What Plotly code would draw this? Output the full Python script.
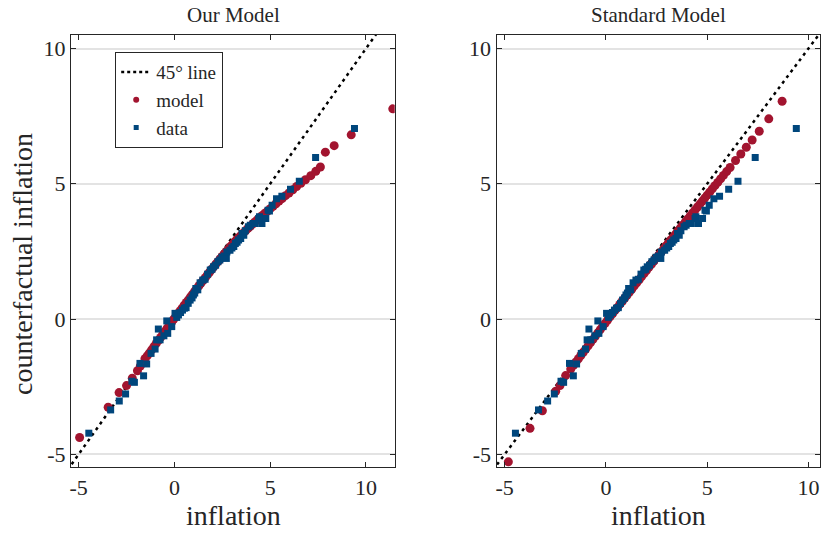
import plotly.graph_objects as go

# ---------------- data ----------------
line45 = [-6, 12]

# observed data (same in both panels)
data_x = [-4.47, -3.33, -2.88, -2.55, -2.22, -2.09, -1.61, -1.80, -1.45, -1.22, -1.01,
          -0.93, -0.75, -0.84, -0.55, -0.35, -0.40, -0.14, 0.03, 0.12, 0.21, 0.32, 0.42,
          0.52, 0.61, 0.72, 0.82, 0.92, 0.99, 1.06, 1.12, 1.22, 1.34, 1.48, 1.60, 1.73,
          1.87, 1.96, 2.04, 2.15, 2.27, 2.37, 2.48, 2.60, 2.71, 2.74, 2.90, 3.00, 3.10,
          3.18, 3.27, 3.35, 3.46, 3.53, 3.62, 3.70, 3.86, 3.96, 4.11, 4.22, 4.40, 4.44,
          4.57, 4.77, 4.89, 4.96, 5.10, 5.33, 5.61, 6.06, 6.52, 7.37, 9.40]
data_y = [-4.22, -3.36, -3.03, -2.77, -2.30, -2.34, -2.10, -1.64, -1.66, -1.27, -1.11,
          -0.77, -0.77, -0.37, -0.62, -0.53, -0.07, -0.28, 0.21, 0.06, 0.15, 0.24, 0.33,
          0.40, 0.42, 0.58, 0.70, 0.78, 0.89, 0.96, 1.13, 1.08, 1.34, 1.44, 1.47, 1.66,
          1.81, 1.84, 1.93, 1.99, 2.12, 2.18, 2.28, 2.33, 2.24, 2.48, 2.54, 2.63, 2.68,
          2.79, 2.84, 2.92, 2.98, 3.16, 3.10, 3.26, 3.41, 3.47, 3.53, 3.53, 3.72, 3.78,
          3.53, 3.72, 4.02, 3.99, 4.21, 4.45, 4.54, 4.80, 5.09, 5.97, 7.04]

# "Our Model"
ours_x = [-4.95, -3.46, -2.89, -2.50, -2.20, -1.93, -1.78, -1.54, -1.42, -1.31, -1.19,
          -1.07, -0.95, -0.83, -0.72, -0.61, -0.49, -0.38, -0.27, -0.15, -0.04, 0.07,
          0.18, 0.29, 0.40, 0.51, 0.62, 0.73, 0.84, 0.95, 1.06, 1.17, 1.28, 1.39, 1.50,
          1.61, 1.72, 1.83, 1.94, 2.05, 2.16, 2.27, 2.38, 2.49, 2.60, 2.71, 2.82, 2.93,
          3.04, 3.15, 3.26, 3.37, 3.48, 3.60, 3.72, 3.84, 3.96, 4.08, 4.20, 4.33, 4.46,
          4.59, 4.72, 4.86, 5.00, 5.15, 5.30, 5.46, 5.62, 5.80, 5.98, 6.18, 6.38, 6.60,
          6.84, 7.12, 7.38, 7.62, 7.88, 8.34, 9.23, 11.40]
ours_y = [-4.38, -3.26, -2.72, -2.46, -2.19, -1.91, -1.74, -1.47, -1.36, -1.26, -1.14,
          -1.02, -0.90, -0.79, -0.68, -0.57, -0.45, -0.34, -0.24, -0.12, -0.01, 0.09,
          0.20, 0.30, 0.40, 0.51, 0.61, 0.71, 0.82, 0.92, 1.03, 1.13, 1.23, 1.33, 1.43,
          1.53, 1.63, 1.73, 1.83, 1.93, 2.03, 2.12, 2.22, 2.31, 2.41, 2.50, 2.59, 2.68,
          2.77, 2.86, 2.94, 3.02, 3.10, 3.18, 3.27, 3.35, 3.43, 3.51, 3.59, 3.67, 3.75,
          3.83, 3.91, 3.99, 4.08, 4.17, 4.26, 4.36, 4.45, 4.56, 4.66, 4.78, 4.90, 5.02,
          5.15, 5.30, 5.46, 5.62, 6.17, 6.41, 6.81, 7.77]

# "Standard Model"
std_x = [-4.82, -3.75, -3.14, -2.48, -2.27, -1.99, -1.74, -1.60, -1.48, -1.36, -1.24,
         -1.12, -1.00, -0.88, -0.76, -0.64, -0.52, -0.40, -0.28, -0.16, -0.04, 0.08,
         0.20, 0.32, 0.44, 0.56, 0.68, 0.80, 0.92, 1.04, 1.16, 1.28, 1.40, 1.52, 1.64,
         1.76, 1.88, 2.00, 2.12, 2.24, 2.36, 2.48, 2.60, 2.72, 2.84, 2.96, 3.08, 3.20,
         3.32, 3.44, 3.56, 3.68, 3.80, 3.92, 4.04, 4.16, 4.28, 4.40, 4.52, 4.64, 4.76,
         4.88, 5.00, 5.12, 5.25, 5.38, 5.52, 5.66, 5.80, 5.96, 6.13, 6.40, 6.66, 6.93,
         7.22, 7.57, 8.04, 8.70]
std_y = [-5.28, -4.04, -3.39, -2.67, -2.46, -2.09, -1.85, -1.71, -1.59, -1.47, -1.35,
         -1.23, -1.11, -0.99, -0.87, -0.75, -0.63, -0.51, -0.39, -0.27, -0.16, -0.04,
         0.08, 0.19, 0.31, 0.42, 0.54, 0.65, 0.77, 0.88, 1.00, 1.11, 1.23, 1.34, 1.45,
         1.57, 1.68, 1.79, 1.91, 2.02, 2.13, 2.25, 2.36, 2.47, 2.58, 2.70, 2.81, 2.92,
         3.03, 3.14, 3.26, 3.37, 3.48, 3.59, 3.70, 3.81, 3.92, 4.03, 4.14, 4.25, 4.36,
         4.47, 4.58, 4.69, 4.81, 4.93, 5.05, 5.18, 5.31, 5.45, 5.60, 5.86, 6.10, 6.35,
         6.62, 6.94, 7.40, 8.05]

tick_vals = [-5, 0, 5, 10]
tick_text = ["-5", "0", "5", "10"]

RED = "#A2142F"
BLUE = "#00467C"
FONT = "Liberation Serif"
INK = "#262626"

fig = go.Figure()

def add_panel(mx, my, xa, ya):
    fig.add_trace(go.Scatter(x=line45, y=line45, mode="lines", name="45° line",
                             line=dict(color="black", width=2.5, dash="3px,4px"),
                             xaxis=xa, yaxis=ya, showlegend=False))
    fig.add_trace(go.Scatter(x=mx, y=my, mode="markers", name="model",
                             marker=dict(color=RED, size=9, symbol="circle", line=dict(width=0)),
                             xaxis=xa, yaxis=ya, showlegend=False))
    fig.add_trace(go.Scatter(x=data_x, y=data_y, mode="markers", name="data",
                             marker=dict(color=BLUE, size=7, symbol="square", line=dict(width=0)),
                             xaxis=xa, yaxis=ya, showlegend=False))

add_panel(ours_x, ours_y, "x", "y")
add_panel(std_x, std_y, "x2", "y2")

# legend entries (smaller symbols, as in the reference legend)
fig.add_trace(go.Scatter(x=[None], y=[None], mode="lines", name="45° line",
                         line=dict(color="black", width=2.5, dash="3px,3px")))
fig.add_trace(go.Scatter(x=[None], y=[None], mode="markers", name="model",
                         marker=dict(color=RED, size=6, symbol="circle")))
fig.add_trace(go.Scatter(x=[None], y=[None], mode="markers", name="data",
                         marker=dict(color=BLUE, size=5, symbol="square")))

ML, MR, MT, MB = 71, 2, 35, 66
W, H = 822, 533
PW = W - ML - MR
PH = H - MT - MB

def px2x(px):
    return (px - ML) / PW

def py2y(py):
    return (H - MB - py) / PH

axis_common = dict(showline=True, linecolor=INK, linewidth=1.2, mirror="ticks",
                   ticks="inside", ticklen=5, tickwidth=1.2, tickcolor=INK,
                   tickvals=tick_vals, ticktext=tick_text, zeroline=False,
                   tickfont=dict(family=FONT, size=22, color=INK))

fig.update_layout(
    width=W, height=H,
    margin=dict(l=ML, r=MR, t=MT, b=MB),
    paper_bgcolor="white", plot_bgcolor="white",
    xaxis=dict(domain=[0, px2x(394.7)], range=[-5.4, 11.5], showgrid=False, anchor="y", **axis_common),
    yaxis=dict(domain=[0, 1], range=[-5.47, 10.5], showgrid=True, gridcolor="#e3e3e3", gridwidth=1.5,
               anchor="x", **axis_common),
    xaxis2=dict(domain=[px2x(496.6), 1], range=[-5.4, 10.57], showgrid=False, anchor="y2", **axis_common),
    yaxis2=dict(domain=[0, 1], range=[-5.47, 10.5], showgrid=True, gridcolor="#e3e3e3", gridwidth=1.5,
                anchor="x2", **axis_common),
    legend=dict(x=px2x(115), y=py2y(52), xanchor="left", yanchor="top",
                bgcolor="white", bordercolor=INK, borderwidth=1.2,
                font=dict(family=FONT, size=19, color=INK),
                tracegroupgap=0, itemwidth=30),
    showlegend=True,
)

title_font = dict(family=FONT, size=21, color=INK)
label_font = dict(family=FONT, size=28, color=INK)
fig.add_annotation(text="Our Model", x=px2x(233), y=py2y(15), xref="paper", yref="paper",
                   showarrow=False, xanchor="center", yanchor="middle", font=title_font)
fig.add_annotation(text="Standard Model", x=px2x(658), y=py2y(15), xref="paper", yref="paper",
                   showarrow=False, xanchor="center", yanchor="middle", font=title_font)
fig.add_annotation(text="inflation", x=px2x(233), y=py2y(515), xref="paper", yref="paper",
                   showarrow=False, xanchor="center", yanchor="middle", font=label_font)
fig.add_annotation(text="inflation", x=px2x(658), y=py2y(515), xref="paper", yref="paper",
                   showarrow=False, xanchor="center", yanchor="middle", font=label_font)
fig.add_annotation(text="counterfactual inflation", x=px2x(22), y=py2y(264), xref="paper", yref="paper",
                   showarrow=False, xanchor="center", yanchor="middle", textangle=-90,
                   font=dict(family=FONT, size=28, color=INK))

fig.write_html("out.html", config={"displayModeBar": False},
               post_script="document.body.style.margin='0px';document.body.style.overflow='hidden';")
